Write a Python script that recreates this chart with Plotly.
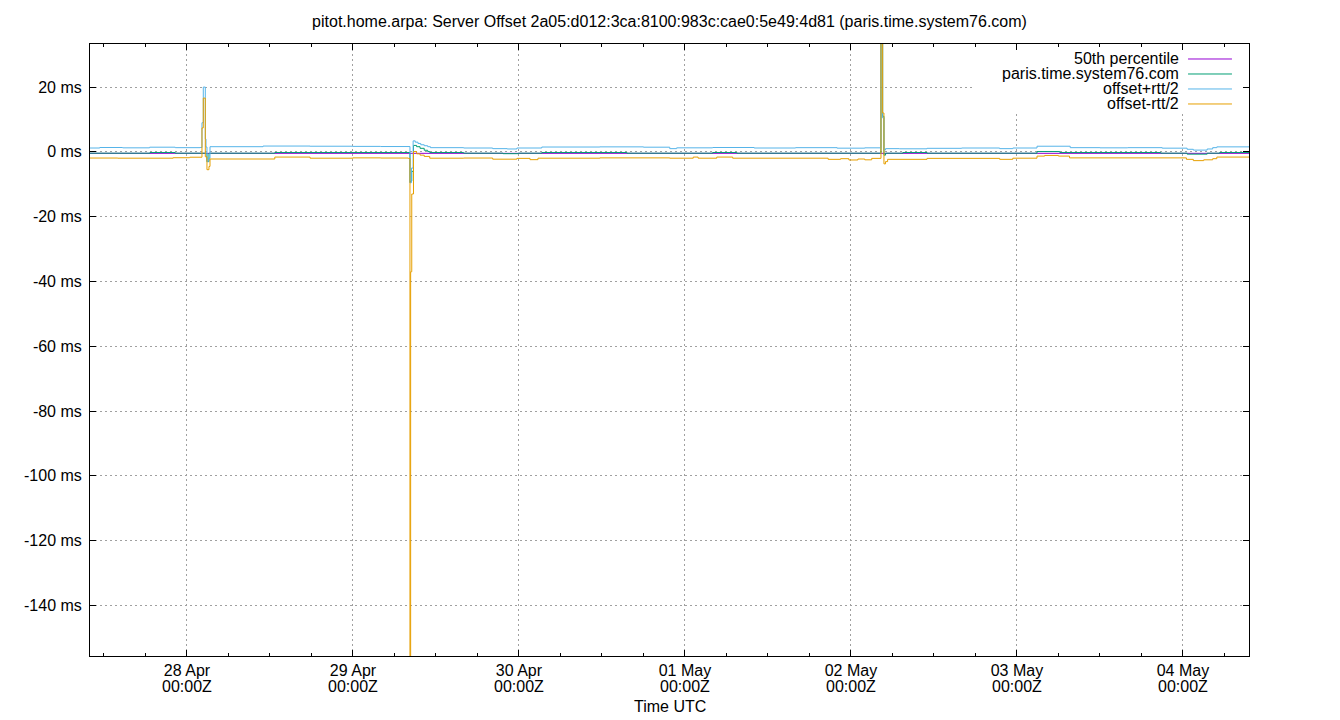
import pandas as pd
import plotly.graph_objects as go

# ---------------- data ----------------
TITLE = "pitot.home.arpa: Server Offset 2a05:d012:3ca:8100:983c:cae0:5e49:4d81 (paris.time.system76.com)"
X_TITLE = "Time UTC"
SERIES_NAMES = ["50th percentile", "paris.time.system76.com", "offset+rtt/2", "offset-rtt/2"]
SERIES_COLORS = ["#9400d3", "#009e73", "#56b4e9", "#e69f00"]

BASE_TIME = "2025-04-27 00:00"          # hours below are counted from here (UTC)
X_RANGE_HOURS = [9.98, 177.55]
Y_RANGE_MS = [-155.6, 33.3]

# 50th percentile of offset (ms)
median_h = [9.98, 177.55]
median_ms = [-0.45, -0.45]

# paris.time.system76.com offset (ms)
offset_h = [9.98, 18.65, 22.3, 26.89, 27.18, 36.7, 56.24, 56.34, 56.5, 56.75,
            57.2, 57.7, 58.3, 58.8, 59.1, 64.0, 69.7, 71.9, 75.3, 87.6,
            100.0, 103.5, 124.34, 124.58, 124.77, 125.0, 127.5, 131.0, 146.9, 150.2,
            164.8, 168.6, 171.5, 173.3, 177.55]
offset_ms = [-0.4, -0.2, -0.4, -3.0, -0.4, -0.2, -9.5, -9.0, -6.0, 2.0,
             1.6, 1.1, 0.5, 0.1, -0.2, -0.4, -0.55, -0.4, -0.2, -0.4,
             -0.2, -0.4, 40.0, 11.0, -1.0, -0.4, -0.2, -0.4, 0.1, -0.2,
             -0.4, -0.7, -0.4, -0.2, -0.2]

# offset + rtt/2 (ms)
plus_h = [9.98, 11.4, 14.7, 18.6, 22.3, 25.9, 26.17, 26.36, 26.65, 26.75,
          26.89, 27.1, 27.33, 35.0, 41.8, 48.0, 52.0, 56.24, 56.45, 56.7,
          57.0, 57.4, 57.8, 58.3, 58.8, 59.2, 64.0, 68.2, 70.3, 71.7,
          75.3, 83.7, 90.0, 93.8, 94.8, 100.0, 106.0, 112.0, 118.0, 122.0,
          124.34, 124.58, 124.77, 125.0, 127.0, 131.0, 136.0, 141.5, 143.4, 146.9,
          151.7, 156.0, 160.0, 165.0, 168.6, 169.5, 171.5, 172.3, 172.9, 177.55]
plus_ms = [1.2, 1.35, 1.25, 1.45, 1.3, 1.35, 9.0, 20.0, 4.0, 1.5,
           -3.0, -2.0, 1.6, 1.8, 1.75, 1.7, 1.65, -9.5, -5.0, 3.4,
           3.0, 2.6, 2.2, 1.9, 1.6, 1.3, 1.2, 1.0, 0.9, 1.2,
           1.5, 1.55, 1.45, 1.0, 1.25, 1.35, 1.2, 1.3, 1.15, 1.25,
           45.0, 10.5, 0.6, 1.0, 0.95, 1.1, 1.2, 1.0, 1.2, 1.75,
           1.3, 1.25, 1.3, 1.15, 0.8, 0.55, 0.9, 1.3, 1.55, 1.6]

# offset - rtt/2 (ms)
minus_h = [9.98, 14.0, 22.0, 24.4, 26.17, 26.36, 26.65, 26.89, 27.18, 27.33,
           36.7, 41.8, 48.0, 52.0, 56.0, 56.24, 56.34, 56.5, 56.75, 57.2,
           57.7, 58.3, 59.1, 64.0, 68.2, 71.7, 73.6, 74.75, 83.7, 93.8,
           97.2, 97.9, 100.6, 102.9, 116.7, 118.5, 119.7, 121.0, 122.0, 123.0,
           124.34, 124.58, 124.77, 125.0, 125.3, 131.0, 141.5, 143.4, 146.9, 148.0,
           150.0, 151.6, 168.5, 169.5, 171.0, 172.3, 172.9, 177.55]
minus_ms = [-1.9, -1.95, -1.8, -1.65, 7.4, 16.6, -1.5, -5.5, -4.5, -2.2,
            -1.6, -1.95, -1.85, -1.9, -2.0, -200.0, -37.0, -13.0, 0.1, -0.6,
            -1.0, -1.4, -1.95, -1.9, -2.25, -2.0, -2.4, -1.95, -1.85, -1.95,
            -1.6, -1.95, -1.6, -1.95, -2.3, -2.1, -2.5, -2.2, -2.45, -2.0,
            42.0, 12.0, -3.7, -3.0, -2.3, -2.0, -2.3, -1.95, -1.3, -1.1,
            -1.3, -1.85, -2.3, -2.7, -2.45, -2.1, -1.6, -1.6]

# axis ticks
x_tick_days = ["2025-04-28", "2025-04-29", "2025-04-30", "2025-05-01",
               "2025-05-02", "2025-05-03", "2025-05-04"]
x_tick_dates = ["28 Apr", "29 Apr", "30 Apr", "01 May", "02 May", "03 May", "04 May"]
x_tick_clock = ["00:00Z", "00:00Z", "00:00Z", "00:00Z", "00:00Z", "00:00Z", "00:00Z"]
y_tick_vals = [20, 0, -20, -40, -60, -80, -100, -120, -140]
y_tick_text = ["20 ms", "0 ms", "-20 ms", "-40 ms", "-60 ms", "-80 ms", "-100 ms", "-120 ms", "-140 ms"]

# ---------------- figure ----------------
base = pd.Timestamp(BASE_TIME)


def to_time(hours):
    return base + pd.to_timedelta(hours, unit="h")


series = [
    (median_h, median_ms),
    (offset_h, offset_ms),
    (plus_h, plus_ms),
    (minus_h, minus_ms),
]

FONT = "Liberation Sans, Arial, sans-serif"
TXT = dict(family=FONT, size=16, color="black")

fig = go.Figure()
for (hs, vs), name, color in zip(series, SERIES_NAMES, SERIES_COLORS):
    fig.add_trace(go.Scatter(
        x=to_time(hs), y=vs, name=name, mode="lines",
        line=dict(color=color, width=1, shape="hv"),
        showlegend=False,
    ))
# empty trace so the second (label-only) x axis is drawn
fig.add_trace(go.Scatter(x=[to_time(X_RANGE_HOURS[0])], y=[None], xaxis="x2",
                         mode="lines", showlegend=False, hoverinfo="skip"))

axis_common = dict(
    showline=True, linecolor="black", linewidth=1, mirror="ticks",
    ticks="inside", ticklen=6, tickcolor="black", tickwidth=1,
    showgrid=True, gridcolor="#a0a0a0", gridwidth=1, griddash="2px,3px",
    zeroline=False, tickfont=TXT,
)

x_range = [to_time(X_RANGE_HOURS[0]), to_time(X_RANGE_HOURS[1])]
fig.update_layout(
    xaxis=dict(
        type="date", range=x_range,
        tickmode="array", tickvals=x_tick_days, ticktext=x_tick_dates,
        minor=dict(tickmode="linear", tick0=BASE_TIME, dtick=6 * 3600 * 1000,
                   ticks="inside", ticklen=3, tickcolor="black", showgrid=False),
        **axis_common,
    ),
    xaxis2=dict(
        type="date", range=x_range, matches="x", overlaying="x", anchor="y", side="bottom",
        tickmode="array", tickvals=x_tick_days, ticktext=x_tick_clock,
        ticks="", showline=False, showgrid=False, zeroline=False,
        tickfont=TXT, ticklabelstandoff=19,
    ),
    yaxis=dict(
        range=Y_RANGE_MS, tickmode="array", tickvals=y_tick_vals, ticktext=y_tick_text,
        ticklabelstandoff=4, **axis_common,
    ),
)

# axis title
fig.add_annotation(xref="x domain", yref="y domain", x=0.5, y=-50 / 612,
                   text=X_TITLE, showarrow=False, xanchor="center", yanchor="middle",
                   font=TXT)

# gnuplot-style key: opaque box, right-aligned text, sample line on the right
span_h = X_RANGE_HOURS[1] - X_RANGE_HOURS[0]
span_ms = Y_RANGE_MS[1] - Y_RANGE_MS[0]
fig.add_shape(type="rect", xref="x", yref="y",
              x0=to_time(X_RANGE_HOURS[0] + 0.761 * span_h),
              x1=to_time(X_RANGE_HOURS[0] + 0.994 * span_h),
              y0=Y_RANGE_MS[0] + 0.887 * span_ms, y1=Y_RANGE_MS[1],
              fillcolor="white", line=dict(width=0), layer="between")
row_y = [0.9755, 0.951, 0.9265, 0.902]
for name, color, yy in zip(SERIES_NAMES, SERIES_COLORS, row_y):
    fig.add_annotation(xref="x domain", yref="y domain", x=0.9413, y=yy,
                       text=name, showarrow=False, xanchor="right", yanchor="middle",
                       font=TXT)
    fig.add_shape(type="line", xref="x domain", yref="y domain",
                  x0=0.9474, x1=0.9853, y0=yy, y1=yy,
                  line=dict(color=color, width=1), layer="above")

fig.update_layout(
    width=1340, height=720,
    margin=dict(l=90, r=91, t=44, b=64),
    plot_bgcolor="white", paper_bgcolor="white",
    font=TXT,
    title=dict(text=TITLE, x=0.5, xref="paper", xanchor="center",
               y=1 - 21 / 720, yref="container", yanchor="middle", font=TXT),
    showlegend=False,
)

fig.write_html("out.html", config={"displayModeBar": False},
               post_script="document.body.style.margin='0';")
